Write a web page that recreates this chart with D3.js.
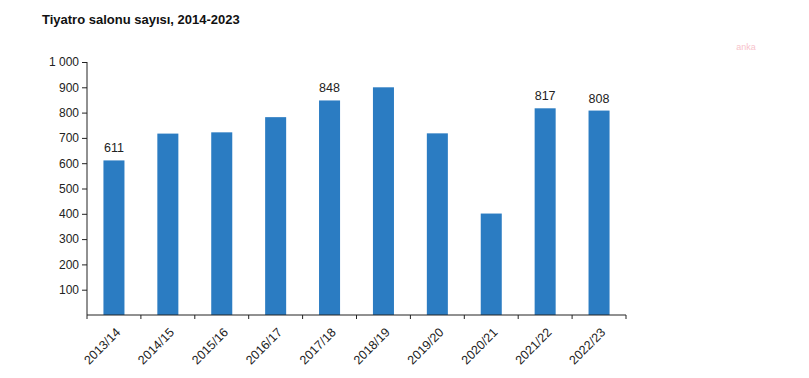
<!DOCTYPE html>
<html>
<head>
<meta charset="utf-8">
<script src="https://cdn.jsdelivr.net/npm/d3@7"></script>
<style>
  body { margin: 0; background: #fff; }
  svg { display: block; font-family: 'Liberation Sans', Arial, sans-serif; }
</style>
</head>
<body>
<div id="chart"></div>
<script>
const seasons = ['2013/14', '2014/15', '2015/16', '2016/17', '2017/18', '2018/19', '2019/20', '2020/21', '2021/22', '2022/23']
const halls = [611, 717, 722, 782, 848, 900, 718, 401, 817, 808]
const labelled = ['2013/14', '2017/18', '2021/22', '2022/23']
const yTicks = [100, 200, 300, 400, 500, 600, 700, 800, 900, 1000]

const width = 809
const height = 378
const margin = { top: 62, right: 183, bottom: 63, left: 87 }
const innerW = width - margin.left - margin.right
const innerH = height - margin.top - margin.bottom

const svg = d3.select('#chart')
  .append('svg')
  .attr('width', width)
  .attr('height', height)

svg.append('text')
  .attr('x', 42)
  .attr('y', 24)
  .text('Tiyatro salonu sayısı, 2014-2023')
  .style('font-size', '13px')
  .style('font-weight', 'bold')
  .attr('fill', '#111')

// faint watermark
svg.append('text')
  .attr('x', 746)
  .attr('y', 50)
  .attr('text-anchor', 'middle')
  .text('anka')
  .style('font-size', '9px')
  .attr('fill', '#f7c3cc')

const g = svg.append('g').attr('transform', `translate(${margin.left}, ${margin.top})`)

const xScale = d3.scaleBand().domain(seasons).range([0, innerW]).paddingInner(0.61).paddingOuter(0.305)
const xEdge = d3.scaleBand().domain(seasons).range([0, innerW])
const yScale = d3.scaleLinear().domain([0, 1000]).range([innerH, 0])

const fmt = v => d3.format(',')(v).replace(',', ' ')

// y axis
g.append('g')
  .attr('class', 'y-axis')
  .call(d3.axisLeft(yScale).tickValues(yTicks).tickSize(5).tickSizeOuter(0).tickFormat(fmt).tickPadding(3))
  .call(ax => {
    ax.select('.domain').attr('stroke', '#222').attr('d', `M0,0V${innerH}`)
    ax.selectAll('.tick line').attr('stroke', '#222')
    ax.selectAll('.tick text').attr('fill', '#222').style('font-size', '12px')
  })

// bars
g.selectAll('rect.bar')
  .data(seasons)
  .join('rect')
  .attr('class', 'bar')
  .attr('x', d => xScale(d))
  .attr('width', xScale.bandwidth())
  .attr('y', (d, i) => yScale(halls[i]))
  .attr('height', (d, i) => innerH - yScale(halls[i]))
  .attr('fill', '#2b7cc2')

// value labels
g.selectAll('text.value')
  .data(seasons.filter(s => labelled.includes(s)))
  .join('text')
  .attr('class', 'value')
  .attr('x', d => xScale(d) + xScale.bandwidth() / 2)
  .attr('y', d => yScale(halls[seasons.indexOf(d)]) - 8)
  .attr('text-anchor', 'middle')
  .text(d => halls[seasons.indexOf(d)])
  .style('font-size', '12.5px')
  .attr('fill', '#222')

// x axis
const xAxisG = g.append('g')
  .attr('class', 'x-axis')
  .attr('transform', `translate(0, ${innerH})`)

xAxisG.append('line')
  .attr('x1', 0).attr('x2', innerW)
  .attr('stroke', '#222')

xAxisG.selectAll('line.tick')
  .data(seasons.concat(['end']))
  .join('line')
  .attr('class', 'tick')
  .attr('x1', (d, i) => i < seasons.length ? xEdge(d) : innerW)
  .attr('x2', (d, i) => i < seasons.length ? xEdge(d) : innerW)
  .attr('y1', 0).attr('y2', 4)
  .attr('stroke', '#222')

xAxisG.selectAll('text')
  .data(seasons)
  .join('text')
  .attr('transform', d => `translate(${xScale(d) + xScale.bandwidth() / 2 + 1}, 12) rotate(-45)`)
  .attr('text-anchor', 'end')
  .attr('dy', '0.7em')
  .text(d => d)
  .style('font-size', '12.5px')
  .attr('fill', '#222')
</script>
</body>
</html>
